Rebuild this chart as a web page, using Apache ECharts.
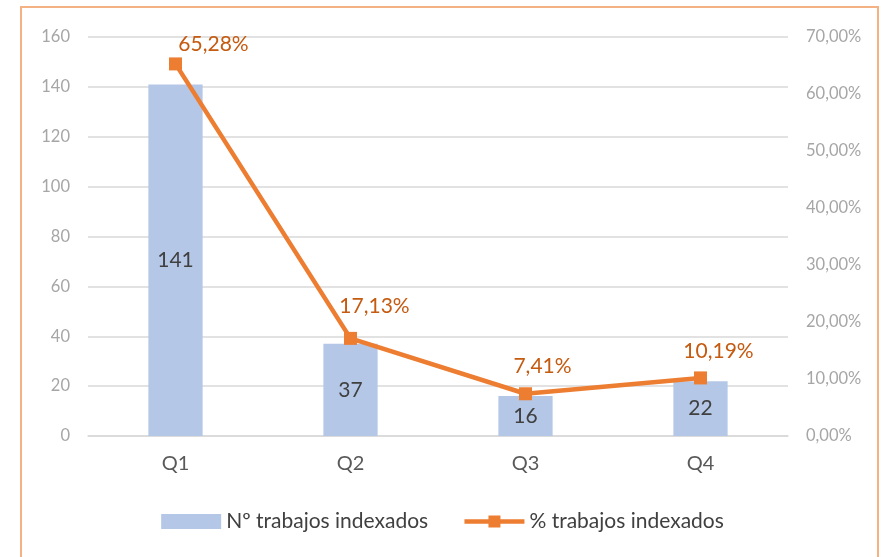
<!DOCTYPE html>
<html>
<head>
<meta charset="utf-8">
<script src="https://cdn.jsdelivr.net/npm/echarts@6/dist/echarts.min.js"></script>
<style>
html, body { margin: 0; padding: 0; background: #fff; overflow: hidden; }
#chart { width: 885px; height: 557px; }
</style>
</head>
<body>
<div id="chart"></div>
<script>
// datos del gráfico
var categorias = ['Q1', 'Q2', 'Q3', 'Q4'];
var numTrabajos = [141, 37, 16, 22];
var pctTrabajos = [0.6528, 0.1713, 0.0741, 0.1019];
var nombreBarras = 'Nº trabajos indexados';
var nombreLinea = '% trabajos indexados';

var fuente = 'Lato, "Open Sans", sans-serif';

function pct(v) {
	return (v * 100).toFixed(2).replace('.', ',') + '%';
}

// desplazamiento de cada etiqueta de la línea (como en Excel)
var desplaz = [[38, 2], [24, -10], [17, -6], [18, -5]];

var chart = echarts.init(document.getElementById('chart'));
chart.setOption({
	animation: false,
	textStyle: { fontFamily: fuente },
	graphic: [{
		type: 'rect',
		shape: { x: 21, y: 7, width: 857, height: 570 },
		style: { fill: 'none', stroke: '#F4B183', lineWidth: 2 },
		silent: true
	}],
	grid: { left: 88, right: 97, top: 37, bottom: 121 },
	legend: {
		bottom: 20,
		left: 'center',
		itemWidth: 60,
		itemHeight: 15,
		itemGap: 34,
		textStyle: { fontFamily: fuente, fontSize: 21, color: '#404040' },
		data: [
			{ name: nombreBarras, icon: 'rect' },
			{ name: nombreLinea, lineStyle: { width: 4.5 } }
		]
	},
	xAxis: {
		type: 'category',
		data: categorias,
		axisLine: { lineStyle: { color: '#D9D9D9', width: 1.5 } },
		axisTick: { show: false },
		axisLabel: { color: '#595959', fontSize: 20, margin: 18, fontFamily: fuente }
	},
	yAxis: [{
		type: 'value',
		min: 0,
		max: 160,
		interval: 20,
		axisLine: { show: false },
		axisTick: { show: false },
		splitLine: { lineStyle: { color: '#D9D9D9', width: 1.5 } },
		axisLabel: { color: '#A6A6A6', fontSize: 16.5, margin: 18, fontFamily: fuente }
	}, {
		type: 'value',
		min: 0,
		max: 0.7,
		interval: 0.1,
		axisLine: { show: false },
		axisTick: { show: false },
		splitLine: { show: false },
		axisLabel: {
			color: '#A6A6A6', fontSize: 16.5, margin: 18, fontFamily: fuente,
			formatter: pct
		}
	}],
	series: [{
		name: nombreBarras,
		type: 'bar',
		data: numTrabajos,
		barWidth: '31%',
		itemStyle: { color: '#B4C7E7' },
		label: {
			show: true,
			position: 'inside',
			color: '#404040',
			fontSize: 21,
			fontFamily: fuente
		}
	}, {
		name: nombreLinea,
		type: 'line',
		yAxisIndex: 1,
		data: pctTrabajos.map(function (v, i) {
			return { value: v, label: { offset: desplaz[i] } };
		}),
		symbol: 'rect',
		symbolSize: 13,
		lineStyle: { color: '#ED7D31', width: 4.5 },
		itemStyle: { color: '#ED7D31' },
		z: 5,
		label: {
			show: true,
			position: 'top',
			color: '#C55A11',
			fontSize: 21,
			fontFamily: fuente,
			formatter: function (p) { return pct(p.value); }
		}
	}]
});
</script>
</body>
</html>
